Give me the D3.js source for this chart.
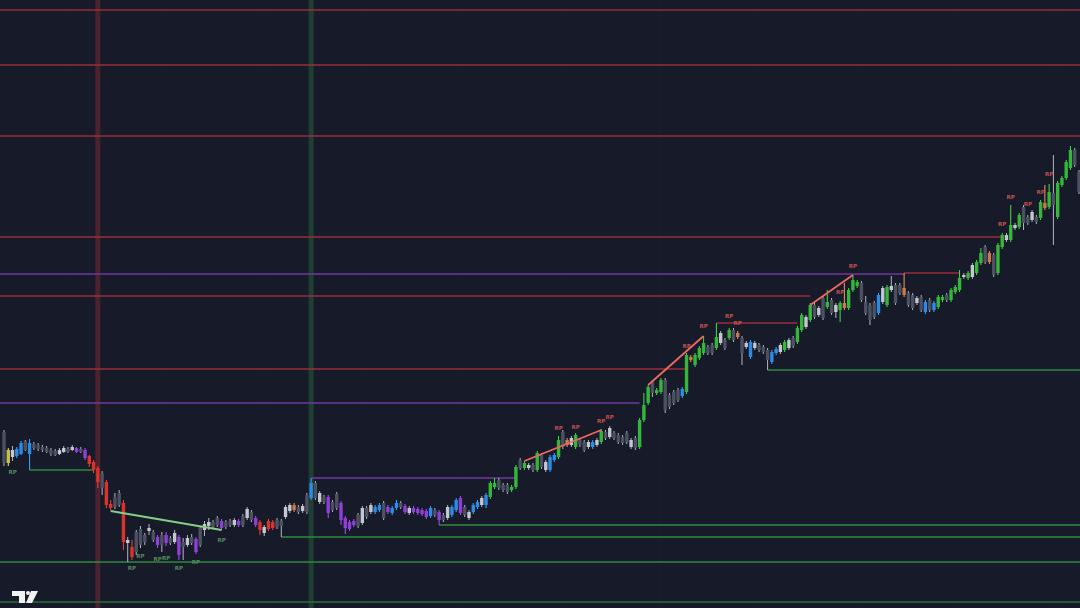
<!DOCTYPE html>
<html><head><meta charset="utf-8">
<script src="https://cdn.jsdelivr.net/npm/d3@7"></script>
<style>html,body{margin:0;padding:0;background:#171b29;overflow:hidden}</style>
</head><body><svg id="c" width="1080" height="608"></svg>
<script>
// ---- candle data (price units) ----
const open=[168,137,143,144,146,159,146,156,155,153,
152,150,149,146,148,151,150,148,151,142,
144,138,132,127,118,96,103,107,97,57,
53,68,71,65,69,68,55,65,57,62,
58,45,58,55,63,48,72,70,74,78,
82,72,78,79,75,75,84,82,88,75,
78,67,79,78,80,79,83,89,90,93,
89,105,102,117,98,103,87,98,106,80,
72,71,75,85,77,92,88,88,90,97,
88,87,92,97,88,87,88,87,86,83,
84,90,80,85,82,85,90,87,93,82,
88,93,95,95,103,113,120,115,115,110,
113,140,132,132,135,130,145,130,130,140,
143,168,155,155,153,160,158,153,153,155,
158,168,163,167,165,163,167,153,162,153,
180,197,218,207,208,220,205,208,210,204,
208,240,235,242,247,253,255,252,257,260,
262,270,263,262,253,243,252,255,253,250,
238,247,248,250,252,262,258,270,273,280,
295,285,302,293,300,288,290,292,292,310,
314,317,298,295,297,287,298,295,310,315,
315,305,307,305,297,303,288,300,290,293,
300,305,300,308,310,323,322,323,327,337,
353,338,345,327,353,360,360,372,373,393,
383,380,383,382,392,393,407,383,415,422,
432,450,428];
const high=[170,152,154,153,159,160,161,158,157,155,
154,152,151,152,154,153,155,153,153,152,
145,140,134,129,120,100,107,110,100,63,
60,70,74,67,76,70,65,68,68,64,
70,65,62,65,66,63,74,79,82,80,
84,81,80,81,82,81,86,93,90,84,
80,75,81,80,82,81,95,97,97,95,
96,107,122,119,109,105,105,100,108,99,
84,80,81,87,94,94,97,95,97,99,
95,94,100,99,96,94,94,93,92,91,
94,92,90,87,95,95,102,104,95,90,
97,100,104,107,119,122,122,117,117,115,
135,142,139,137,137,149,147,140,145,147,
164,170,162,164,167,162,160,160,160,162,
171,170,174,169,167,165,169,162,164,182,
207,215,220,212,222,222,207,210,212,213,
247,245,247,254,264,255,257,277,269,262,
272,272,269,264,259,260,259,257,255,252,
250,253,257,260,262,264,274,287,285,297,
297,294,304,310,302,297,299,317,312,325,
320,319,304,297,299,307,314,315,324,317,
317,327,309,307,304,305,300,302,299,305,
305,307,312,315,330,327,329,337,340,352,
355,349,347,357,367,367,395,377,387,395,
385,390,385,400,415,416,445,419,424,440,
454,452,430];
const low=[134,134,139,142,145,149,130,150,149,148,
147,144,144,145,147,147,149,147,147,140,
133,127,112,105,92,90,91,93,50,38,
40,45,52,55,65,58,52,48,54,55,
56,40,40,53,55,46,53,64,70,71,
73,70,71,73,73,73,73,80,78,73,
65,64,69,70,71,63,81,87,88,86,
87,86,100,100,96,96,82,88,90,75,
66,69,73,72,75,81,86,86,88,80,
86,85,90,91,86,85,86,85,84,81,
82,83,75,78,80,83,88,85,83,80,
86,91,93,92,101,111,110,108,106,108,
111,130,130,130,128,128,131,128,128,138,
141,151,153,153,151,153,148,151,151,153,
156,160,161,160,156,155,156,151,150,151,
178,195,203,205,206,187,191,195,198,202,
206,238,233,240,245,245,245,250,255,250,
260,258,261,235,251,241,250,248,246,230,
236,245,246,248,250,252,256,268,271,278,
281,283,280,291,285,282,278,290,290,308,
312,298,285,275,281,285,296,293,308,295,
305,303,293,290,295,288,286,288,288,291,
298,298,298,306,308,321,320,321,325,335,
336,336,323,325,351,358,358,370,371,370,
375,378,376,380,390,391,355,381,413,420,
430,433,406];
const close=[137,150,150,151,157,150,157,152,151,150,
148,146,145,150,152,148,153,152,148,150,
136,130,118,112,95,92,93,95,58,60,
43,48,55,58,72,60,63,55,65,57,
67,63,53,62,57,61,55,76,78,73,
75,79,73,75,80,79,75,91,80,82,
70,73,71,72,73,74,93,95,95,88,
94,88,117,102,107,98,103,90,92,97,
82,78,79,74,92,83,95,93,95,82,
93,92,97,93,94,92,92,91,90,89,
92,85,88,80,93,93,100,102,85,88,
95,98,102,105,117,117,112,110,108,113,
133,132,137,135,130,147,133,138,143,145,
160,153,160,162,165,155,150,158,158,160,
169,162,172,162,158,157,158,160,152,180,
195,213,207,210,220,190,193,197,200,211,
245,243,245,252,257,247,247,263,267,252,
270,260,267,247,257,258,257,250,248,240,
248,251,255,258,260,254,272,285,283,295,
283,292,282,298,287,295,297,297,310,320,
318,300,287,280,283,305,312,313,314,297,
307,312,295,292,302,290,298,290,297,303,
303,300,310,313,322,325,327,335,338,347,
338,347,325,355,365,365,375,375,385,377,
377,388,378,398,397,408,395,417,422,438,
450,435,408];
// bar colour state for each candle
const tone=("DYWBBDBDDD"+"DDDWWDWPDP"+"RRRDRRDDRW"+"RDDDWDPDPD"+"WPDWDPDWWD"+
"DPDDWPDWDP"+"RWRRDDWWOD"+"WDBDWDPDDP"+"PPPDWDWBBD"+"PBBDPWPPPP"+
"BDPDWBBPDW"+"BBWBGGDDDG"+"GDGWDGDWBB"+"GDOWGDDWBW"+"GDWDDDDWDG"+
"GGDGGDDDDB"+"GOGGGDDGWD"+"GDODWBWDDD"+"BBWGWDGGWG"+"DWDGDWGOGG"+
"GDDDDBWGWD"+"DODDWDBDBG"+"GDGGGWGWGG"+"DODGGWGWGD"+"DWDGOGDGGG"+"GDD").split("");

// horizontal levels: price, from bar, to bar, kind
const levelPrice=[590,535,464,363,304,231,277,327,326,197,122,130,63,75,38,230,-2];
const levelFrom =[-2,-2,-2,-2,-2,-2,167,211,-2,-2,72,6,65,102,-2,179,-2];
const levelTo   =[254,254,254,234,189,160,186,224,211,149,120,21,254,254,254,254,254];
const levelKind =["r","r","r","r","r","r","r","r","p","p","p","g","g","g","g","g","g2"];

// RP trend lines
const trendFrom=[122,151,189,25], trendFromP=[139,215,295,89];
const trendTo=[140,164,199,51], trendToP=[170,264,325,70];
const trendKind=["r","r","r","g"];

// RP labels
const rpRedIdx=[130,134,140,142,160,164,170,172,196,199,234,236,240,243,245];
const rpRedPrice=[172,173,179,183,254,274,284,277,308,334,376,403,396,408,426];
const rpGreenIdx=[2,30,32,36,38,41,45,51];
const rpGreenPrice=[128,32,44,41,42,32,38,60];

// session markers (bar index)
const vMarkIdx=[22,72], vMarkKind=["r","g"];

// ---- drawing ----
const W=1080,H=608;
const svg=d3.select("#c");
const x=d3.scaleLinear().domain([0,252]).range([4,1079]);
const y=d3.scaleLinear().domain([0,600]).range([600,0]);

svg.append("rect").attr("width",W).attr("height",H).attr("fill","#171b29");

// faint grid
const g0=svg.append("g");
g0.selectAll("line.v").data(d3.range(0,1080,99)).join("line")
 .attr("x1",d=>d+66).attr("x2",d=>d+66).attr("y1",0).attr("y2",H)
 .attr("stroke","#1b1f2d").attr("stroke-width",1);
g0.selectAll("line.h").data(d3.range(0,608,51)).join("line")
 .attr("x1",0).attr("x2",W).attr("y1",d=>d+29).attr("y2",d=>d+29)
 .attr("stroke","#1b1f2d").attr("stroke-width",1);

// vertical session bands
const vCol={r:"#8b2a35",g:"#2b6b3d"};
svg.selectAll("rect.vm").data(vMarkIdx).join("rect")
 .attr("x",d=>x(d)-2.5).attr("width",5).attr("y",0).attr("height",H)
 .attr("fill",(d,i)=>vCol[vMarkKind[i]]).attr("opacity",0.45);

// levels
const lCol={r:"#9a2e3a",p:"#70389c",g:"#2f8a3e",g2:"#2a6f36"};
svg.selectAll("line.lv").data(levelPrice).join("line")
 .attr("x1",(d,i)=>Math.max(0,x(levelFrom[i]))).attr("x2",(d,i)=>Math.min(W,x(levelTo[i])))
 .attr("y1",d=>y(d)).attr("y2",d=>y(d))
 .attr("stroke",(d,i)=>lCol[levelKind[i]]).attr("stroke-width",1.4);

// candles
const fill={G:"#35b53a",R:"#d9342b",P:"#8d3fd6",B:"#2d8be8",Y:"#c9bf4a",O:"#c87a4c",W:"#c3c7cf",D:"#4c5161"};
const cg=svg.append("g");
const idx=d3.range(open.length);
cg.selectAll("line.w").data(idx).join("line")
 .attr("x1",i=>x(i)).attr("x2",i=>x(i))
 .attr("y1",i=>y(high[i])).attr("y2",i=>y(low[i]))
 .attr("stroke",i=>tone[i]==="D"||tone[i]==="W"?"#b3b7c1":d3.color(fill[tone[i]]).brighter(0.6))
 .attr("stroke-width",1);
cg.selectAll("rect.b").data(idx).join("rect")
 .attr("x",i=>x(i)-1.7).attr("width",3.4)
 .attr("y",i=>y(Math.max(open[i],close[i])))
 .attr("height",i=>Math.max(1.2,Math.abs(y(open[i])-y(close[i]))))
 .attr("fill",i=>fill[tone[i]]);

// trend lines
const tCol={r:"#ee6a5f",g:"#86cf86"};
svg.selectAll("line.t").data(trendFrom).join("line")
 .attr("x1",d=>x(d)).attr("y1",(d,i)=>y(trendFromP[i]))
 .attr("x2",(d,i)=>x(trendTo[i])).attr("y2",(d,i)=>y(trendToP[i]))
 .attr("stroke",(d,i)=>tCol[trendKind[i]]).attr("stroke-width",1.8);

// RP labels
function labels(ix,pr,col){
 svg.append("g").selectAll("text").data(ix).join("text")
  .attr("x",d=>x(d)).attr("y",(d,i)=>y(pr[i]))
  .attr("text-anchor","middle").attr("dominant-baseline","middle")
  .attr("font-family","DejaVu Sans, sans-serif").attr("font-size",5.5).attr("font-weight","bold")
  .attr("fill",col).text("RP");
}
labels(rpRedIdx,rpRedPrice,"#c04e4b");
labels(rpGreenIdx,rpGreenPrice,"#4f8a5c");

// TradingView logo
const lg=svg.append("g").attr("fill","#f2f2f2");
lg.append("path").attr("d","M12,591 H25 V603 H19 V596 H12 Z");
lg.append("circle").attr("cx",28).attr("cy",593).attr("r",2);
lg.append("path").attr("d","M31,591 H38 L32,603 H26 Z");
</script></body></html>
